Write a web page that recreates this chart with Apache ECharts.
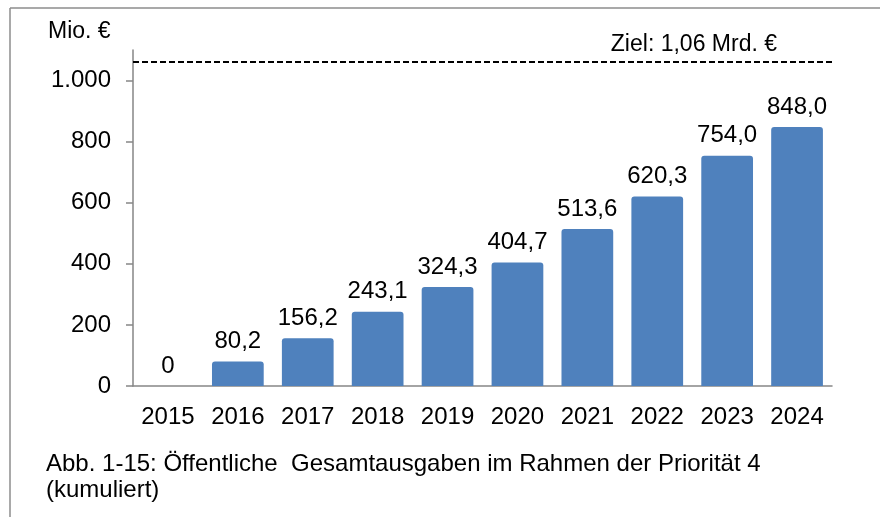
<!DOCTYPE html>
<html>
<head>
<meta charset="utf-8">
<script src="https://cdn.jsdelivr.net/npm/echarts@6/dist/echarts.min.js"></script>
<style>
  html, body { margin: 0; padding: 0; background: #fff; }
  #main { width: 880px; height: 520px; }
</style>
</head>
<body>
<div id="main"></div>
<script>
// Daten
var years = ['2015', '2016', '2017', '2018', '2019', '2020', '2021', '2022', '2023', '2024'];
var ausgaben = [0, 80.2, 156.2, 243.1, 324.3, 404.7, 513.6, 620.3, 754.0, 848.0];
var yTicks = [0, 200, 400, 600, 800, 1000];
var ziel = 1060;

var font = "'Liberation Sans', Arial, sans-serif";

function deNum(v) {
  if (v === 0) return '0';
  return v.toFixed(1).replace('.', ',');
}
function deTick(v) {
  return v >= 1000 ? String(v).replace(/\B(?=(\d{3})+(?!\d))/g, '.') : String(v);
}

var chart = echarts.init(document.getElementById('main'));

var option = {
  backgroundColor: '#fff',
  animation: false,
  textStyle: { fontFamily: font },
  grid: { left: 133, right: 48, top: 50, bottom: 134 },
  graphic: [
    // Rahmen oben und links
    { type: 'line', shape: { x1: 10, y1: 8, x2: 880, y2: 8 }, style: { stroke: '#8c8c8c', lineWidth: 1.5 } },
    { type: 'line', shape: { x1: 10, y1: 8, x2: 10, y2: 517 }, style: { stroke: '#8c8c8c', lineWidth: 1.5 } },
    { type: 'text', left: 48, top: 20, style: { text: 'Mio. €', font: '23px ' + font, fill: '#000' } },
    { type: 'text', left: 46, top: 452, style: { text: 'Abb. 1-15: Öffentliche  Gesamtausgaben im Rahmen der Priorität 4', font: '24px ' + font, fill: '#000' } },
    { type: 'text', left: 46, top: 478, style: { text: '(kumuliert)', font: '24px ' + font, fill: '#000' } }
  ],
  xAxis: {
    type: 'category',
    data: years,
    axisLine: { lineStyle: { color: '#868686', width: 1.5 } },
    axisTick: { show: false },
    axisLabel: { color: '#000', fontSize: 24, margin: 19, fontFamily: font }
  },
  yAxis: {
    type: 'value',
    min: 0,
    max: 1100,
    interval: 200,
    splitLine: { show: false },
    axisLine: { show: true, lineStyle: { color: '#868686', width: 1.5 } },
    axisTick: { show: true, length: 7, customValues: yTicks, lineStyle: { color: '#868686', width: 1.5 } },
    axisLabel: { color: '#000', fontSize: 24, margin: 22, fontFamily: font, customValues: yTicks, formatter: deTick }
  },
  series: [
    {
      type: 'bar',
      data: ausgaben,
      barWidth: '74%',
      itemStyle: { color: '#4F81BD', borderRadius: [3, 3, 0, 0] },
      label: {
        show: true,
        position: 'top',
        distance: 8,
        color: '#000',
        fontSize: 24,
        fontFamily: font,
        formatter: function (p) { return deNum(p.value); }
      },
      markLine: {
        silent: true,
        symbol: 'none',
        lineStyle: { color: '#000', type: [6, 3], width: 2 },
        label: {
          show: true,
          position: 'insideEndTop',
          formatter: 'Ziel: 1,06 Mrd. €',
          color: '#000',
          fontSize: 23,
          fontFamily: font,
          padding: [0, 50, 1, 0]
        },
        data: [{ yAxis: ziel }]
      }
    }
  ]
};

chart.setOption(option);
</script>
</body>
</html>
